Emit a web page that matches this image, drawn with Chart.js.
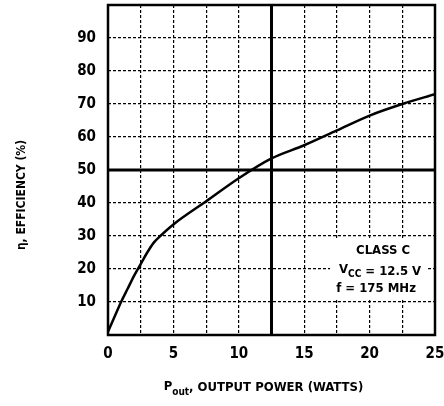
<!DOCTYPE html>
<html>
<head>
<meta charset="utf-8">
<script src="https://cdn.jsdelivr.net/npm/chart.js@4/dist/chart.umd.min.js"></script>
<style>
  html, body { margin: 0; padding: 0; background: #fff; }
  #wrap { width: 444px; height: 406px; }
</style>
</head>
<body>
<div id="wrap"><canvas id="grafico" width="444" height="406"></canvas></div>
<script>
// curva de eficiencia
const potencia = [0, 0.5, 1, 1.5, 2, 2.5, 3, 3.5, 4, 5, 7.5, 10, 12.5, 15, 17.5, 20, 22.5, 25];
const eficiencia = [1, 5.5, 10, 14, 18, 21.5, 25, 28, 30, 33.5, 40.5, 47.5, 53.5, 57.5, 62, 66.5, 70, 73];
const ticksX = [0, 5, 10, 15, 20, 25];
const ticksY = [10, 20, 30, 40, 50, 60, 70, 80, 90];
const notas = ['CLASS C', 'VCC = 12.5 V', 'f = 175 MHz'];

const fuente = '"Liberation Sans Narrow", "DejaVu Sans Condensed", sans-serif';

const decoracion = {
  id: 'decoracion',
  afterDraw(chart) {
    const ctx = chart.ctx;
    const xs = chart.scales.x, ys = chart.scales.y;
    const a = chart.chartArea;
    ctx.save();
    ctx.strokeStyle = '#000';
    // lineas gruesas centrales
    ctx.lineWidth = 3;
    ctx.beginPath();
    ctx.moveTo(xs.getPixelForValue(12.5), a.top);
    ctx.lineTo(xs.getPixelForValue(12.5), a.bottom);
    ctx.moveTo(a.left, ys.getPixelForValue(50));
    ctx.lineTo(a.right, ys.getPixelForValue(50));
    ctx.stroke();
    // marco
    ctx.lineWidth = 2.5;
    ctx.strokeRect(a.left, a.top, a.right - a.left, a.bottom - a.top);

    // notas
    const cx = xs.getPixelForValue(20.8);
    const y0 = ys.getPixelForValue(25.5);
    ctx.fillStyle = '#fff';
    ctx.fillRect(cx - 50, y0 - 12, 98, 60);
    ctx.fillStyle = '#000';
    ctx.textAlign = 'center';
    ctx.textBaseline = 'middle';
    ctx.font = 'bold 13px ' + fuente;
    ctx.fillText(notas[0], cx + 3, y0);
    // VCC con subindice
    const t1 = 'V', t2 = 'CC', t3 = ' = 12.5 V';
    ctx.font = 'bold 13px ' + fuente;
    const w1 = ctx.measureText(t1).width, w3 = ctx.measureText(t3).width;
    ctx.font = 'bold 10px ' + fuente;
    const w2 = ctx.measureText(t2).width;
    let x = cx - (w1 + w2 + w3) / 2;
    const y1 = y0 + 21;
    ctx.textAlign = 'left';
    ctx.font = 'bold 13px ' + fuente;
    ctx.fillText(t1, x, y1 - 2);
    ctx.font = 'bold 10px ' + fuente;
    ctx.fillText(t2, x + w1, y1 + 3);
    ctx.font = 'bold 13px ' + fuente;
    ctx.fillText(t3, x + w1 + w2, y1);
    ctx.textAlign = 'center';
    ctx.fillText(notas[2], cx - 4, y0 + 38);

    // titulo eje x con subindice
    const p1 = 'P', p2 = 'out', p3 = ', OUTPUT POWER (WATTS)';
    ctx.font = 'bold 13px ' + fuente;
    const q1 = ctx.measureText(p1).width, q3 = ctx.measureText(p3).width;
    ctx.font = 'bold 10px ' + fuente;
    const q2 = ctx.measureText(p2).width;
    let tx = (a.left + a.right) / 2 - (q1 + q2 + q3) / 2 - 8;
    const ty = 388;
    ctx.textAlign = 'left';
    ctx.font = 'bold 13px ' + fuente;
    ctx.fillText(p1, tx, ty - 1);
    ctx.font = 'bold 10px ' + fuente;
    ctx.fillText(p2, tx + q1, ty + 4);
    ctx.font = 'bold 13px ' + fuente;
    ctx.fillText(p3, tx + q1 + q2, ty);

    // titulo eje y
    ctx.translate(22, 195);
    ctx.rotate(-Math.PI / 2);
    ctx.textAlign = 'center';
    ctx.font = 'bold 12px ' + fuente;
    ctx.fillText('\u03b7, EFFICIENCY (%)', 0, 0);
    ctx.restore();
  }
};

new Chart(document.getElementById('grafico').getContext('2d'), {
  type: 'scatter',
  data: {
    datasets: [{
      data: potencia.map((p, i) => ({ x: p, y: eficiencia[i] })),
      showLine: true,
      borderColor: '#000',
      borderWidth: 2.5,
      pointRadius: 0,
      tension: 0.4,
      cubicInterpolationMode: 'monotone'
    }]
  },
  options: {
    responsive: false,
    animation: false,
    layout: { padding: { left: 48, right: 9, top: 5, bottom: 41 } },
    plugins: { legend: { display: false }, tooltip: { enabled: false } },
    scales: {
      x: {
        type: 'linear',
        min: 0, max: 25,
        afterFit(s) { s.height = 30; s.paddingLeft = 0; s.paddingRight = 0; },
        afterBuildTicks(s) {
          s.ticks = [];
          for (let v = 0; v <= 25; v += 2.5) s.ticks.push({ value: v });
        },
        ticks: {
          color: '#000',
          padding: 10,
          maxRotation: 0,
          autoSkip: false,
          font: { family: fuente, size: 15, weight: 'bold' },
          callback: v => ticksX.includes(v) ? String(v) : ''
        },
        grid: { color: '#000', lineWidth: 1.2, drawTicks: false },
        border: { display: false, dash: [3, 2] }
      },
      y: {
        type: 'linear',
        min: 0, max: 100,
        afterFit(s) { s.width = 60; s.paddingTop = 0; s.paddingBottom = 0; },
        ticks: {
          stepSize: 10,
          color: '#000',
          padding: 12,
          font: { family: fuente, size: 15, weight: 'bold' },
          callback: v => ticksY.includes(v) ? String(v) : ''
        },
        grid: { color: '#000', lineWidth: 1.2, drawTicks: false },
        border: { display: false, dash: [3, 2] }
      }
    }
  },
  plugins: [decoracion]
});
</script>
</body>
</html>
